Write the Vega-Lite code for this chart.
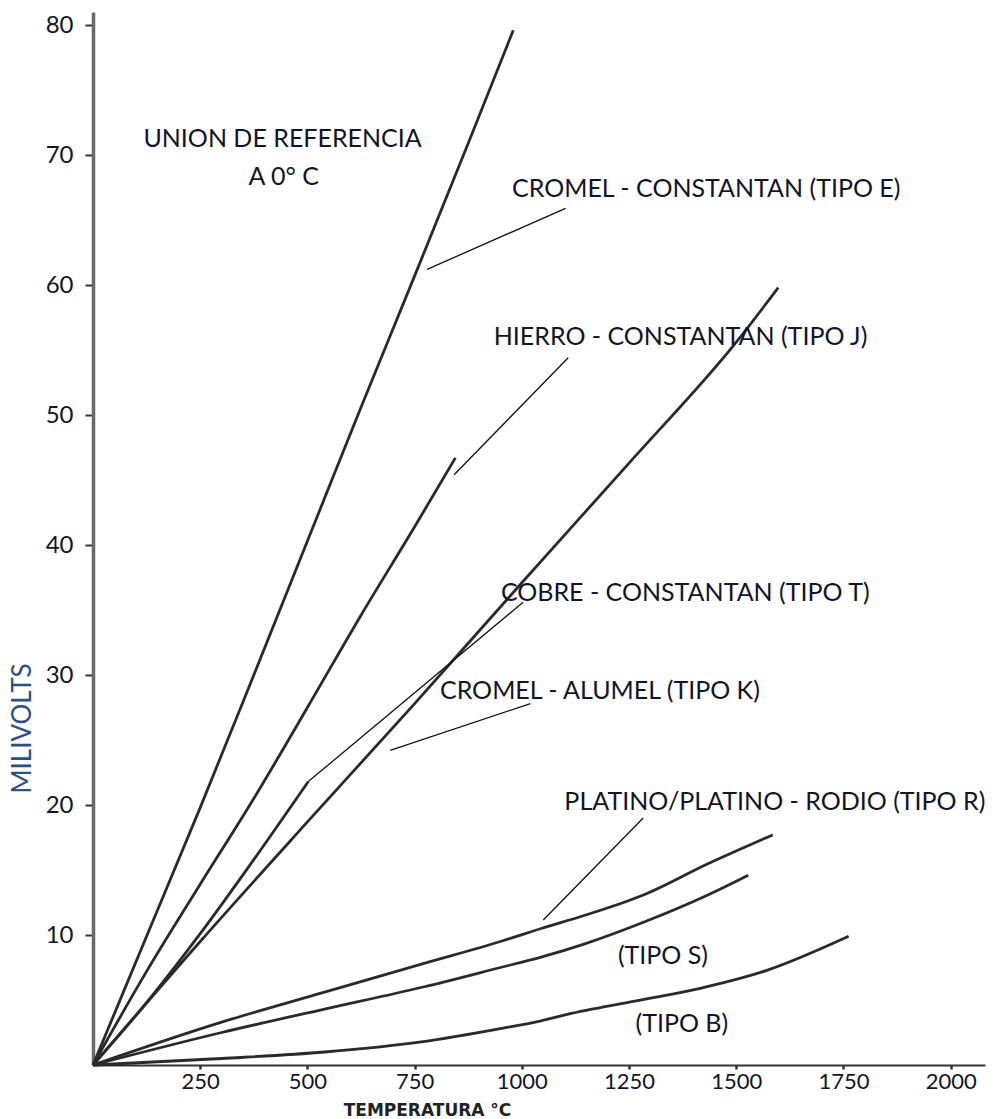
{
  "$schema": "https://vega.github.io/schema/vega-lite/v6.json",
  "width": 892,
  "height": 1053,
  "autosize": {"type": "none"},
  "padding": {"left": 93, "top": 12, "right": 13, "bottom": 54},
  "background": "white",
  "config": {"view": {"stroke": null}, "font": "Lato"},
  "datasets": {
    "curves": [
      {"series": "E", "temp": 0, "mv": 0},
      {"series": "E", "temp": 125, "mv": 9.9},
      {"series": "E", "temp": 250, "mv": 19.8},
      {"series": "E", "temp": 375, "mv": 30.0},
      {"series": "E", "temp": 500, "mv": 40.3},
      {"series": "E", "temp": 625, "mv": 50.6},
      {"series": "E", "temp": 750, "mv": 60.7},
      {"series": "E", "temp": 875, "mv": 70.9},
      {"series": "E", "temp": 980, "mv": 79.6},
      {"series": "J", "temp": 0, "mv": 0},
      {"series": "J", "temp": 125, "mv": 7.2},
      {"series": "J", "temp": 250, "mv": 13.9},
      {"series": "J", "temp": 375, "mv": 20.5},
      {"series": "J", "temp": 500, "mv": 27.5},
      {"series": "J", "temp": 625, "mv": 34.6},
      {"series": "J", "temp": 750, "mv": 41.4},
      {"series": "J", "temp": 845, "mv": 46.7},
      {"series": "T", "temp": 0, "mv": 0},
      {"series": "T", "temp": 125, "mv": 4.8},
      {"series": "T", "temp": 250, "mv": 10.1},
      {"series": "T", "temp": 375, "mv": 15.8},
      {"series": "T", "temp": 502, "mv": 21.8},
      {"series": "K", "temp": 0, "mv": 0},
      {"series": "K", "temp": 250, "mv": 9.5},
      {"series": "K", "temp": 500, "mv": 18.7},
      {"series": "K", "temp": 750, "mv": 27.8},
      {"series": "K", "temp": 1000, "mv": 37.1},
      {"series": "K", "temp": 1250, "mv": 46.3},
      {"series": "K", "temp": 1500, "mv": 55.6},
      {"series": "K", "temp": 1598, "mv": 59.8},
      {"series": "R", "temp": 0, "mv": 0},
      {"series": "R", "temp": 300, "mv": 3.3},
      {"series": "R", "temp": 540, "mv": 5.6},
      {"series": "R", "temp": 770, "mv": 7.8},
      {"series": "R", "temp": 950, "mv": 9.5},
      {"series": "R", "temp": 1045, "mv": 10.5},
      {"series": "R", "temp": 1145, "mv": 11.5},
      {"series": "R", "temp": 1285, "mv": 13.1},
      {"series": "R", "temp": 1435, "mv": 15.5},
      {"series": "R", "temp": 1585, "mv": 17.7},
      {"series": "S", "temp": 0, "mv": 0},
      {"series": "S", "temp": 300, "mv": 2.5},
      {"series": "S", "temp": 540, "mv": 4.3},
      {"series": "S", "temp": 770, "mv": 6.0},
      {"series": "S", "temp": 950, "mv": 7.5},
      {"series": "S", "temp": 1045, "mv": 8.3},
      {"series": "S", "temp": 1145, "mv": 9.3},
      {"series": "S", "temp": 1285, "mv": 11.0},
      {"series": "S", "temp": 1435, "mv": 13.1},
      {"series": "S", "temp": 1528, "mv": 14.6},
      {"series": "B", "temp": 0, "mv": 0},
      {"series": "B", "temp": 300, "mv": 0.5},
      {"series": "B", "temp": 540, "mv": 1.0},
      {"series": "B", "temp": 770, "mv": 1.8},
      {"series": "B", "temp": 950, "mv": 2.8},
      {"series": "B", "temp": 1045, "mv": 3.4},
      {"series": "B", "temp": 1106, "mv": 3.9},
      {"series": "B", "temp": 1260, "mv": 4.9},
      {"series": "B", "temp": 1416, "mv": 5.9},
      {"series": "B", "temp": 1573, "mv": 7.3},
      {"series": "B", "temp": 1762, "mv": 9.9}
    ],
    "pointers": [
      {"series": "E", "x1": 1102, "y1": 65.9, "x2": 779, "y2": 61.2},
      {"series": "J", "x1": 1108, "y1": 54.4, "x2": 842, "y2": 45.4},
      {"series": "T", "x1": 1003, "y1": 35.6, "x2": 502, "y2": 21.8},
      {"series": "K", "x1": 1020, "y1": 27.8, "x2": 693, "y2": 24.2},
      {"series": "R", "x1": 1283, "y1": 19.0, "x2": 1050, "y2": 11.15}
    ],
    "labels": [
      {"label": "UNION DE REFERENCIA", "temp": 442, "mv": 71.2},
      {"label": "A  0° C", "temp": 445, "mv": 68.3},
      {"label": "CROMEL - CONSTANTAN (TIPO E)", "temp": 1430, "mv": 67.4},
      {"label": "HIERRO - CONSTANTAN (TIPO J)", "temp": 1370, "mv": 56.0},
      {"label": "COBRE - CONSTANTAN (TIPO T)", "temp": 1381, "mv": 36.3},
      {"label": "CROMEL - ALUMEL (TIPO K)", "temp": 1182, "mv": 28.8},
      {"label": "PLATINO/PLATINO - RODIO (TIPO R)", "temp": 1590, "mv": 20.25},
      {"label": "(TIPO S)", "temp": 1329, "mv": 8.4},
      {"label": "(TIPO B)", "temp": 1373, "mv": 3.15}
    ]
  },
  "layer": [
    {
      "data": {"name": "curves"},
      "mark": {"type": "line", "interpolate": "monotone", "color": "#2a2a2a", "strokeWidth": 2.8},
      "encoding": {
        "x": {
          "field": "temp", "type": "quantitative",
          "scale": {"domain": [0, 2080], "nice": false, "zero": false},
          "axis": {
            "values": [250, 500, 750, 1000, 1250, 1500, 1750, 2000],
            "format": "d",
            "grid": false,
            "title": "TEMPERATURA °C",
            "titleFont": "DejaVu Sans", "titleFontWeight": "bold", "titleFontSize": 17, "titleColor": "#222222",
            "titleX": 334, "titleY": 50, "titleAlign": "center", "titleBaseline": "alphabetic",
            "labelFont": "Lato", "labelFontSize": 22, "labelColor": "#141428", "labelPadding": 2,
            "tickSize": 4, "tickColor": "#333333", "tickWidth": 2.5,
            "domainColor": "#333333", "domainWidth": 2
          }
        },
        "y": {
          "field": "mv", "type": "quantitative",
          "scale": {"domain": [0, 81], "nice": false, "zero": false},
          "axis": {
            "values": [10, 20, 30, 40, 50, 60, 70, 80],
            "format": "d",
            "grid": false,
            "title": "MILIVOLTS",
            "titleFont": "Lato", "titleFontWeight": "normal", "titleFontSize": 26, "titleColor": "#2c4f86",
            "titleX": -71, "titleY": 716, "titleAlign": "center", "titleBaseline": "middle", "titleAngle": -90,
            "labelFont": "Lato", "labelFontSize": 24, "labelColor": "#141428", "labelPadding": 12,
            "tickSize": 8, "tickColor": "#333333", "tickWidth": 2,
            "domainColor": "#6a6a6a", "domainWidth": 3.5
          }
        },
        "detail": {"field": "series"},
        "order": {"field": "temp"}
      }
    },
    {
      "data": {"name": "pointers"},
      "mark": {"type": "rule", "color": "#111111", "strokeWidth": 1.3},
      "encoding": {
        "x": {"field": "x1", "type": "quantitative"},
        "y": {"field": "y1", "type": "quantitative"},
        "x2": {"field": "x2"},
        "y2": {"field": "y2"}
      }
    },
    {
      "data": {"name": "labels"},
      "mark": {"type": "text", "font": "Lato", "fontSize": 25, "color": "#141428", "align": "center", "baseline": "middle"},
      "encoding": {
        "x": {"field": "temp", "type": "quantitative"},
        "y": {"field": "mv", "type": "quantitative"},
        "text": {"field": "label"}
      }
    }
  ]
}
